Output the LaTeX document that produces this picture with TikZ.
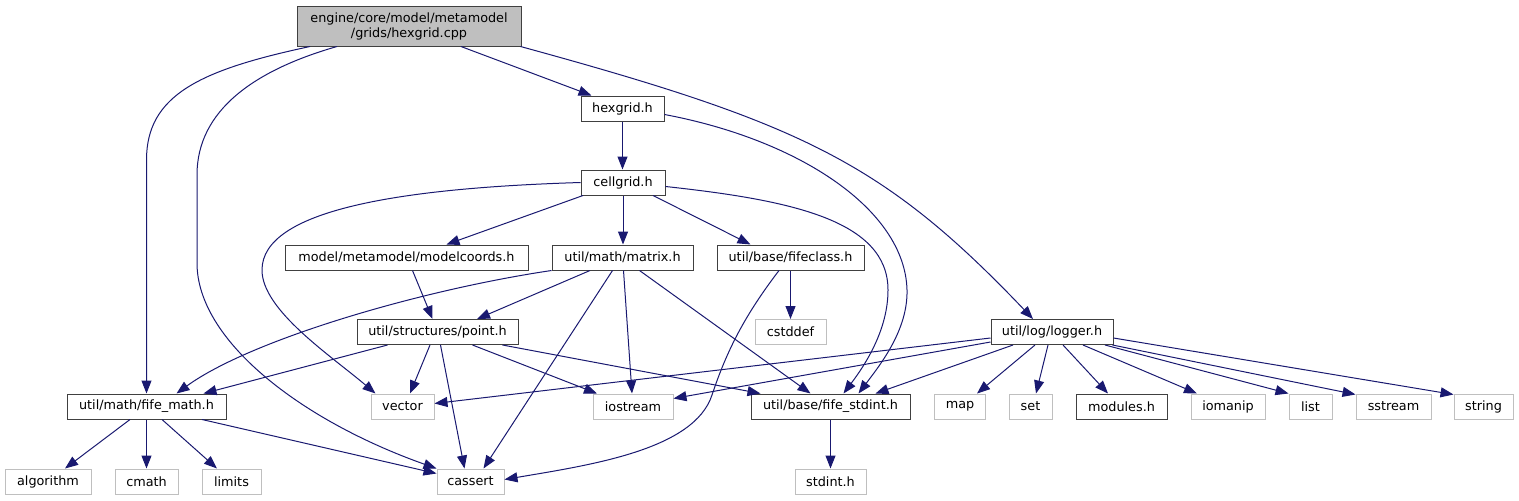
\documentclass[tikz,border=0pt]{standalone}
\usepackage{fontspec}
\setmainfont{DejaVu Sans}
\usetikzlibrary{arrows.meta,calc}
\definecolor{edgecol}{HTML}{191970}
\definecolor{dkborder}{HTML}{404040}
\definecolor{ltborder}{HTML}{BFBFBF}
\definecolor{rootfill}{HTML}{BFBFBF}
\tikzset{
  nodebase/.style={rectangle, inner sep=0pt, minimum height=18.75pt, line width=0.75pt,
    font=\fontsize{9.6pt}{11.25pt}\selectfont, text=black},
  blk/.style={nodebase, draw=dkborder, fill=white},
  gry/.style={nodebase, draw=ltborder, fill=white},
  wd/.style={minimum width=#1*0.75pt},
  edge/.style={draw=edgecol, line width=0.75pt, -{Triangle[length=9.75pt,width=7.5pt]}}
}
\begin{document}
\begin{tikzpicture}[x=0.75pt,y=-0.75pt]
\useasboundingbox (0,0) rectangle (1519,500);
% nodes
\node[blk, fill=rootfill, wd=224, minimum height=30pt, align=center] (root) at (409,26) {engine/core/model/metamodel\\/grids/hexgrid.cpp};
\node[blk, wd=83] (hexgrid) at (622.5,108.5) {hexgrid.h};
\node[blk, wd=84] (cellgrid) at (623,182.5) {cellgrid.h};
\node[blk, wd=243] (modelcoords) at (406.5,257.5) {model/metamodel/modelcoords.h};
\node[blk, wd=141] (matrix) at (622.5,257.5) {util/math/matrix.h};
\node[blk, wd=147] (fifeclass) at (790.5,257.5) {util/base/fifeclass.h};
\node[blk, wd=161] (point) at (437.5,332) {util/structures/point.h};
\node[gry, wd=71] (cstddef) at (790.5,332) {cstddef};
\node[blk, wd=122] (logger) at (1052,332) {util/log/logger.h};
\node[blk, wd=159] (fife_math) at (146.5,406.5) {util/math/fife\_math.h};
\node[gry, wd=63] (vector) at (402.5,406.5) {vector};
\node[gry, wd=80] (iostream) at (633,406.5) {iostream};
\node[blk, wd=159] (fife_stdint) at (830.5,406.5) {util/base/fife\_stdint.h};
\node[gry, wd=51] (map) at (960,406.5) {map};
\node[gry, wd=43] (set) at (1030.5,406.5) {set};
\node[blk, wd=91] (modules) at (1121.5,406.5) {modules.h};
\node[gry, wd=74] (iomanip) at (1228,406.5) {iomanip};
\node[gry, wd=43] (list) at (1310.5,406.5) {list};
\node[gry, wd=75] (sstream) at (1393.5,406.5) {sstream};
\node[gry, wd=59] (string) at (1483.5,406.5) {string};
\node[gry, wd=86] (algorithm) at (48,481.5) {algorithm};
\node[gry, wd=63] (cmath) at (146.5,481.5) {cmath};
\node[gry, wd=59] (limits) at (231.5,481.5) {limits};
\node[gry, wd=67] (cassert) at (470.5,481.5) {cassert};
\node[gry, wd=71] (stdint) at (830.5,481.5) {stdint.h};
% edges from root
\draw[edge] ($(root.south)+(-99,0)$) .. controls (200,70) and (146.5,95) .. (146.5,160) -- (fife_math.north);
\draw[edge] ($(root.south)+(-72,0)$) .. controls (255,70) and (197,110) .. (197,175) -- (197,263) .. controls (197,340) and (300,420) .. (cassert.north west);
\draw[edge] ($(root.south)+(52,0)$) -- ($(hexgrid.north)+(-31,0)$);
\draw[edge] ($(root.south east)+(-1,0)$) .. controls (800,123) and (883,161.5) .. ($(logger.north)+(-19,0)$);
% hexgrid
\draw[edge] (hexgrid.south) -- (hexgrid.south |- cellgrid.north);
\draw[edge] ($(hexgrid.east)+(0,6)$) .. controls (800,140) and (905,210) .. (907,290) .. controls (908,330) and (880,365) .. ($(fife_stdint.north)+(28,0)$);
% cellgrid
\draw[edge] (cellgrid.west) .. controls (400,188) and (262,210) .. (262,270) .. controls (262,310) and (330,355) .. ($(vector.north west)+(5,0)$);
\draw[edge] ($(cellgrid.south)+(-40,0)$) -- ($(modelcoords.north)+(40,0)$);
\draw[edge] (cellgrid.south) -- (cellgrid.south |- matrix.north);
\draw[edge] ($(cellgrid.south)+(30,0)$) -- ($(fifeclass.north)+(-40,0)$);
\draw[edge] ($(cellgrid.east)+(0,4)$) .. controls (790,200) and (888,220) .. (888,290) .. controls (888,330) and (865,365) .. ($(fife_stdint.north)+(13,0)$);
% modelcoords
\draw[edge] ($(modelcoords.south)+(6,0)$) -- ($(point.north)+(-5,0)$);
% matrix
\draw[edge] ($(matrix.south)+(-32.5,0)$) -- ($(point.north)+(39.5,0)$);
\draw[edge] (matrix.south west) .. controls (420,290) and (250,340) .. ($(fife_math.north)+(30,0)$);
\draw[edge] ($(matrix.south)+(-10,0)$) -- ($(cassert.north)+(13,0)$);
\draw[edge] ($(matrix.south)+(1,0)$) -- ($(iostream.north)+(-1,0)$);
\draw[edge] ($(matrix.south)+(17,0)$) -- ($(fife_stdint.north)+(-20,0)$);
% fifeclass
\draw[edge] (fifeclass.south) -- (cstddef.north);
\draw[edge] ($(fifeclass.south)+(-11.5,0)$) .. controls (745,315) and (727,350) .. (712,395) .. controls (694,450) and (590,465) .. ($(cassert.east)+(0,-2)$);
% point
\draw[edge] ($(point.south)+(-50,0)$) -- ($(fife_math.north)+(57,0)$);
\draw[edge] ($(point.south)+(-7.5,0)$) -- ($(vector.north)+(7.5,0)$);
\draw[edge] ($(point.south)+(3,0)$) -- ($(cassert.north)+(-6,0)$);
\draw[edge] ($(point.south)+(35,0)$) -- ($(iostream.north)+(-36,0)$);
\draw[edge] ($(point.south)+(65,0)$) -- ($(fife_stdint.north)+(-70,0)$);
% fife_math
\draw[edge] ($(fife_math.south)+(-16.5,0)$) -- ($(algorithm.north)+(17,0)$);
\draw[edge] (fife_math.south) -- (fife_math.south |- cmath.north);
\draw[edge] ($(fife_math.south)+(15.5,0)$) -- ($(limits.north)+(-14.5,0)$);
\draw[edge] ($(fife_math.south)+(55.5,0)$) -- ($(cassert.west)+(0,-8)$);
% fife_stdint
\draw[edge] (fife_stdint.south) -- (stdint.north);
% logger
\draw[edge] ($(logger.west)+(0,6)$) -- ($(vector.east)+(0,-3)$);
\draw[edge] ($(logger.west)+(0,10)$) -- ($(iostream.east)+(0,-8)$);
\draw[edge] ($(logger.south)+(-39,0)$) -- ($(fife_stdint.north)+(45,0)$);
\draw[edge] ($(logger.south)+(-17,0)$) -- ($(map.north)+(17,0)$);
\draw[edge] ($(logger.south)+(-4,0)$) -- ($(set.north)+(5.5,0)$);
\draw[edge] ($(logger.south)+(11,0)$) -- ($(modules.north)+(-13.5,0)$);
\draw[edge] ($(logger.south)+(31,0)$) -- ($(iomanip.north)+(-31,0)$);
\draw[edge] ($(logger.south)+(53,0)$) -- (list.north west);
\draw[edge] ($(logger.south east)+(-1,0)$) -- ($(sstream.north west)+(0,1)$);
\draw[edge] ($(logger.east)+(0,6)$) -- ($(string.north west)+(0,1)$);
\end{tikzpicture}
\end{document}
